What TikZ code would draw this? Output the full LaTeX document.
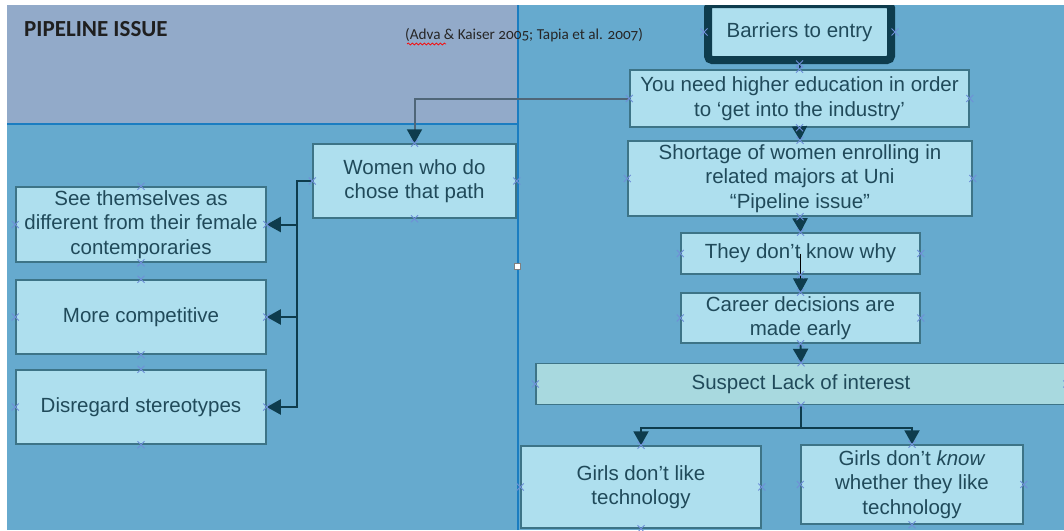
\documentclass[tikz,border=0pt]{standalone}
\usepackage{fontspec}
\setmainfont{Liberation Sans}
\newfontfamily\calfont[Numbers=OldStyle]{Carlito}
\usetikzlibrary{arrows.meta,shapes.misc,decorations.pathmorphing}
\definecolor{hdr}{HTML}{92AAC9}
\definecolor{bgc}{HTML}{66AACE}
\definecolor{boxf}{HTML}{AEDFEE}
\definecolor{boxd}{HTML}{3D7487}
\definecolor{susf}{HTML}{A8D9DF}
\definecolor{arrc}{HTML}{0E3C4D}
\definecolor{grayln}{HTML}{4F6678}
\definecolor{txt}{HTML}{204A5A}
\definecolor{sepc}{HTML}{1B7DC1}
\definecolor{mkc}{HTML}{6F8FD8}
\begin{document}
\begin{tikzpicture}[x=1pt,y=-1pt,
 box/.style={draw=boxd, line width=1.5pt, fill=boxf, text=txt, align=center, inner sep=1pt,
   font=\fontsize{20.5}{24.5}\selectfont},
 link/.style={draw=arrc, line width=2pt, -{Triangle[length=14pt,width=15pt,color=arrc]}},
 mkx/.style={cross out, draw=mkc, line width=1pt, minimum size=6pt, inner sep=0pt}]
\useasboundingbox (0,0) rectangle (1064,530);
\fill[white] (0,0) rectangle (1064,530);
\begin{scope}
\clip (7,5) rectangle (1064,530);
\fill[bgc] (7,5) rectangle (1064,530);
\fill[hdr] (7,5) rectangle (518,124);
\draw[sepc, line width=2.5pt] (7,124) -- (518,124);
\draw[sepc, line width=2pt] (518,5) -- (518,530);

\node[anchor=base west, font=\calfont\bfseries\fontsize{23}{27}\selectfont, text=black!88, inner sep=0pt] (title) at (24,36.5) {PIPELINE ISSUE};
\node[anchor=base west, font=\calfont\fontsize{15.2}{18}\selectfont, text=black!85, inner sep=0pt] (cite) at (405,39.5) {(Adva \& Kaiser 2005; Tapia et al. 2007)};
\draw[red, line width=0.7pt, decorate, decoration={snake, amplitude=1pt, segment length=4pt}] (407,44) -- (446,44);

% right column
\node[box, draw=arrc, line width=8pt, rounded corners=4pt, minimum width=183pt, minimum height=56pt] (bar) at (799.5,32) {Barriers to entry};
\node[box, minimum width=339pt, minimum height=57pt] (you) at (799.5,98.5) {You need higher education in order\\to ‘get into the industry’};
\node[box, minimum width=344pt, minimum height=75pt] (short) at (800,178.5) {Shortage of women enrolling in\\related majors at Uni\\“Pipeline issue”};
\node[box, minimum width=239pt, minimum height=41pt] (they) at (800.5,253.5) {They don’t know why};
\node[box, minimum width=239pt, minimum height=50pt] (car) at (800.5,318) {Career decisions are\\made early};
\node[box, fill=susf, minimum width=530pt, minimum height=41pt] (sus) at (801,384) {Suspect Lack of interest};
\node[box, minimum width=240pt, minimum height=82pt] (g1) at (641,487) {Girls don’t like\\technology};
\node[box, minimum width=222pt, minimum height=79pt] (g2) at (912,484.5) {Girls don’t \textit{know}\\whether they like\\technology};

% left column
\node[box, minimum width=203pt, minimum height=74pt] (wom) at (414.5,181) {Women who do\\chose that path};
\node[box, minimum width=250pt, minimum height=75pt] (see) at (141,224.5) {See themselves as\\different from their female\\contemporaries};
\node[box, minimum width=250pt, minimum height=74pt] (more) at (141,317) {More competitive};
\node[box, minimum width=250pt, minimum height=74pt] (dis) at (141,407) {Disregard stereotypes};

% connectors
\draw[arrc, line width=2pt] (bar.south) -- (you.north);
\draw[link] (you.south) -- (short.north);
\draw[link] (short.south) -- (they.north);
\draw[black, line width=1pt, -{Triangle[length=14pt,width=15pt,color=arrc]}] (they.center) -- (car.north);
\draw[link] (car.south) -- (sus.north);
\draw[link] (sus.south) -- ++(0,23) -| (g1.north);
\draw[link] (sus.south) -- ++(0,23) -| (g2.north);
\draw[link, draw=grayln] (you.west) -| (wom.north);
\draw[link] (wom.west) -- ++(-15,0) |- (see.east);
\draw[link] (wom.west) -- ++(-15,0) |- (more.east);
\draw[link] (wom.west) -- ++(-15,0) |- (dis.east);

% connection markers
\foreach \n in {bar,you,short,they,car,sus,g1,g2,wom,see,more,dis}
  \foreach \a in {north,south,east,west}
    \node[mkx] at (\n.\a) {};

\node[draw=gray, fill=white, line width=0.6pt, minimum size=6pt, inner sep=0pt] (handle) at (517,266) {};
\end{scope}
\end{tikzpicture}
\end{document}
